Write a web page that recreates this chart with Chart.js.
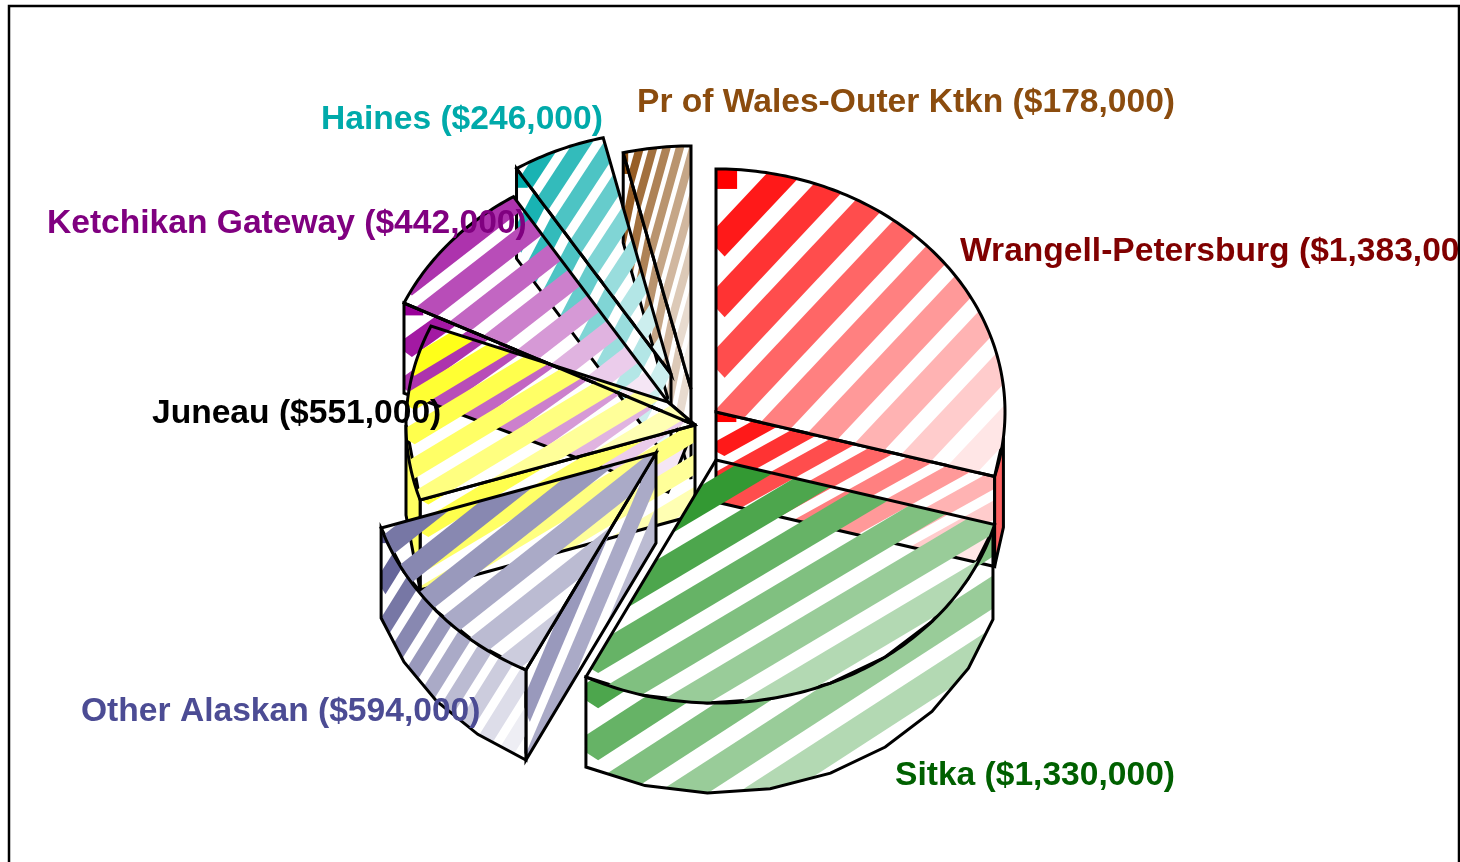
<!DOCTYPE html>
<html><head><meta charset="utf-8">
<style>html,body{margin:0;padding:0;background:#fff;overflow:hidden}canvas{display:block}</style>
<script src="https://cdn.jsdelivr.net/npm/chart.js@4/dist/chart.umd.min.js"></script>
</head><body>
<canvas id="c" width="1460" height="862"></canvas>
<script>
const categories = ["Wrangell-Petersburg","Sitka","Other Alaskan","Juneau","Ketchikan Gateway","Haines","Pr of Wales-Outer Ktkn"];
const values = [1383000,1330000,594000,551000,442000,246000,178000];
const fillColors = ["#ff0000","#008000","#55558f","#ffff00","#990099","#00aaaa","#8b4c0e"];
const labelColors = ["#800000","#006000","#4c4c94","#000000","#800080","#00aaaa","#8b4c0e"];

const STYLE = {
  ratio: 0.841, depth: 90, lineWidth: 3,
  apex: [[716,412],[716,460],[656,453],[695,425],[668,402],[671,374],[691,389]],
  wallTrim: [6,1.2,0,0,0,0,0],
  seam: [3,4],
  labels: [[960,261],[895,785],[81,721],[152,423],[47,233],[321,129],[637,112]],
  order: [0,6,5,4,3,2,1],
  frame: {l:9,t:6,r:1459}
};
function hexRgb(h){return [1,3,5].map(i=>parseInt(h.substr(i,2),16));}
function shade(rgb,a){return 'rgb('+rgb.map(c=>Math.round(c*a+255*(1-a))).join(',')+')';}
function trace(ctx,pts){ctx.beginPath();pts.forEach((p,i)=>i?ctx.lineTo(p[0],p[1]):ctx.moveTo(p[0],p[1]));ctx.closePath();}
function hatchFace(ctx,pts,rgb,boxPts){
  const bp=boxPts||pts;
  const xs=bp.map(p=>p[0]),ys=bp.map(p=>p[1]);
  const x0=Math.min(...xs),y0=Math.min(...ys),W=Math.max(...xs)-x0||1,H=Math.max(...ys)-y0||1;
  const M=(u,v)=>[x0+W*(u+v)/2,y0+H*(u-v)/2];
  ctx.save();trace(ctx,pts);ctx.clip();
  if(W<20){
    ctx.fillStyle=shade(rgb,0.62);ctx.fillRect(x0,y0,W,H);
  }else{
    ctx.fillStyle=shade(rgb,1);
    ctx.fillRect(x0,y0,W*0.073,H*0.065);
    const a=0.03;
    for(let k=1;k<=10;k++){
      const u1=0.315+(k-1)*0.197,u0=u1-0.125;
      const vl=u1<=1?u1-2*a:2, vr=2;
      trace(ctx,[M(u0,-vl),M(u1,-vl),M(u1,vr),M(u0,vr)]);
      ctx.fillStyle=shade(rgb,1-k*0.1);
      ctx.fill();
    }
  }
  ctx.restore();
  trace(ctx,pts);ctx.stroke();
}
const pie3d={
  id:'pie3d',
  beforeDatasetDraw(chart,args){
    const ctx=chart.ctx,meta=chart.getDatasetMeta(args.index),{ratio,depth,apex,order,lineWidth,wallTrim,seam}=STYLE;
    ctx.save();
    ctx.strokeStyle='#000';ctx.lineWidth=lineWidth;ctx.lineJoin='miter';ctx.miterLimit=6;
    order.forEach(i=>{
      const el=meta.data[i],rgb=hexRgb(fillColors[i]),[ax,ay]=apex[i];
      const s=el.startAngle,e=el.endAngle,r=el.outerRadius;
      const pt=t=>[ax+r*Math.cos(t),ay+r*ratio*Math.sin(t)];
      const down=p=>[p[0],p[1]+depth];
      const toDeg=t=>(t+Math.PI/2)*180/Math.PI;
      const ds=toDeg(s),de=toDeg(e);
      if(Math.sin(ds*Math.PI/180)<-1e-3){
        const p=pt(s),own=[[ax,ay],p,down(p),[ax,ay+depth]];
        if(i===seam[1]){
          hatchFace(ctx,[apex[seam[0]],p,down(p),[ax,ay+depth]],rgb,own);
        }else{
          hatchFace(ctx,own,rgb);
        }
      }
      if(Math.sin(de*Math.PI/180)>1e-3){
        const p=pt(e);hatchFace(ctx,[[ax,ay],p,down(p),[ax,ay+depth]],rgb);
      }
      const w0=Math.max(ds,90)+wallTrim[i],w1=Math.min(de,270);
      if(w1>w0){
        const top=[];const n=Math.max(1,Math.round((w1-w0)/12));
        for(let j=0;j<=n;j++){top.push(pt((w0+(w1-w0)*j/n-90)*Math.PI/180));}
        hatchFace(ctx,top.concat(top.slice().reverse().map(down)),rgb);
      }
      const arc=[];
      const m=Math.ceil(de-ds);
      for(let j=0;j<=m;j++)arc.push(pt(s+(e-s)*j/m));
      const own=[[ax,ay]].concat(arc);
      if(seam.includes(i)){
        hatchFace(ctx,[apex[seam[0]]].concat(arc,[apex[seam[1]]]),rgb,own);
      }else{
        hatchFace(ctx,own,rgb);
      }
      if(i===seam[0]){
        const k=meta.data[seam[1]],[kx,ky]=apex[seam[1]];
        ctx.beginPath();
        ctx.moveTo(ax,ay);
        ctx.lineTo(kx+k.outerRadius*Math.cos(k.startAngle),ky+k.outerRadius*ratio*Math.sin(k.startAngle));
        ctx.stroke();
      }
    });
    ctx.restore();
    return false;
  },
  afterDatasetsDraw(chart){
    const ctx=chart.ctx,{frame,labels}=STYLE;
    ctx.save();
    ctx.beginPath();ctx.rect(frame.l,frame.t,frame.r-frame.l,chart.height);ctx.clip();
    ctx.font='bold 33.6px "Liberation Sans", Arial, sans-serif';
    ctx.textBaseline='alphabetic';
    categories.forEach((c,i)=>{
      ctx.fillStyle=labelColors[i];
      ctx.fillText(c+' ($'+values[i].toLocaleString('en-US')+')',labels[i][0],labels[i][1]);
    });
    ctx.restore();
    ctx.save();ctx.strokeStyle='#000';ctx.lineWidth=2.5;
    ctx.beginPath();ctx.moveTo(frame.l,chart.height);ctx.lineTo(frame.l,frame.t);ctx.lineTo(frame.r,frame.t);ctx.lineTo(frame.r,chart.height);ctx.stroke();
    ctx.restore();
  }
};
new Chart(document.getElementById('c'),{
  type:'pie',
  data:{labels:categories,datasets:[{data:values,backgroundColor:fillColors,borderWidth:0,radius:289}]},
  options:{responsive:false,animation:false,plugins:{legend:{display:false},tooltip:{enabled:false}}},
  plugins:[pie3d]
});
</script>
</body></html>
